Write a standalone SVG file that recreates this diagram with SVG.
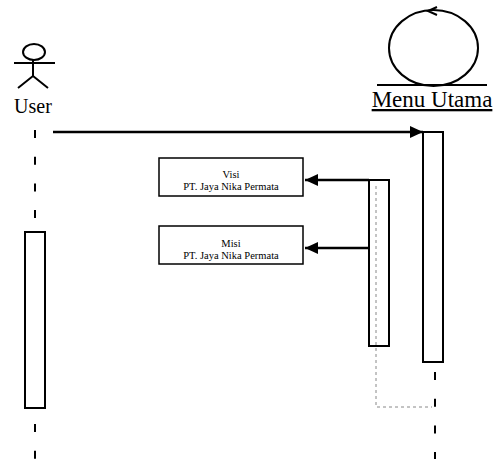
<svg xmlns="http://www.w3.org/2000/svg" width="496" height="459" viewBox="0 0 496 459">
<style>
.ln{stroke:#000;fill:none}
.life{stroke:#000;stroke-width:2;fill:none}
.act{fill:#fff;stroke:#000;stroke-width:2}
.msg{stroke:#000;stroke-width:2.5;fill:none}
.ret{stroke:#888;stroke-width:1;fill:none;stroke-dasharray:3 3}
.lbl{font-family:"Liberation Serif","Times New Roman",serif;fill:#000}
.small{font-size:10.5px;text-anchor:middle}
.box{fill:#fff;stroke:#000;stroke-width:1.5}
</style>
<defs>
<marker id="ah" markerWidth="13" markerHeight="12" refX="13" refY="6" orient="auto" markerUnits="userSpaceOnUse">
<path d="M0,0 L13,6 L0,12 Z" fill="#000"/>
</marker>
</defs>
<rect width="496" height="459" fill="#fff"/>
<g id="connectors">
<line class="life" x1="35" y1="130" x2="35" y2="232" stroke-dasharray="8 18.7"/>
<line class="life" x1="35" y1="424" x2="35" y2="459" stroke-dasharray="8 18.7"/>
<line class="life" x1="435" y1="372" x2="435" y2="459" stroke-dasharray="8 18.7"/>
<path class="ret" d="M376,186 L376,407 L432,407"/>
<line class="msg" x1="53" y1="132" x2="423" y2="132" stroke-width="2" marker-end="url(#ah)"/>
<line class="msg" x1="369" y1="180" x2="305" y2="180" marker-end="url(#ah)"/>
<line class="msg" x1="369" y1="248" x2="305" y2="248" marker-end="url(#ah)"/>
</g>
<g id="user">
<ellipse class="ln" cx="34" cy="52" rx="11" ry="8" stroke-width="2"/>
<line class="ln" x1="14" y1="63" x2="55" y2="63" stroke-width="2"/>
<line class="ln" x1="33" y1="60" x2="33" y2="76" stroke-width="2"/>
<path class="ln" d="M18,88 L33,76 L48,88" stroke-width="2"/>
<text class="lbl" x="33" y="113" font-size="20" text-anchor="middle">User</text>
<rect class="act" x="25" y="232" width="20" height="176"/>
</g>
<g id="menu-utama">
<ellipse class="ln" cx="433.5" cy="48" rx="44.5" ry="38" stroke-width="2"/>
<path class="ln" d="M437,7 L428,11 L437,15" stroke-width="2"/>
<line class="ln" x1="377" y1="85" x2="487" y2="85" stroke-width="2"/>
<text class="lbl" x="432" y="107" font-size="23" text-anchor="middle" text-decoration="underline">Menu Utama</text>
<rect class="act" x="423" y="132" width="20" height="230"/>
</g>
<g id="activation-2">
<rect x="369" y="180" width="20" height="166" fill="none" stroke="#000" stroke-width="2"/>
</g>
<g id="visi">
<rect class="box" x="159" y="158" width="144" height="38"/>
<text class="lbl small" x="231" y="178">Visi</text>
<text class="lbl small" x="231" y="190">PT. Jaya Nika Permata</text>
</g>
<g id="misi">
<rect class="box" x="159" y="226" width="144" height="38"/>
<text class="lbl small" x="231" y="246.5">Misi</text>
<text class="lbl small" x="231" y="258.5">PT. Jaya Nika Permata</text>
</g>
</svg>
